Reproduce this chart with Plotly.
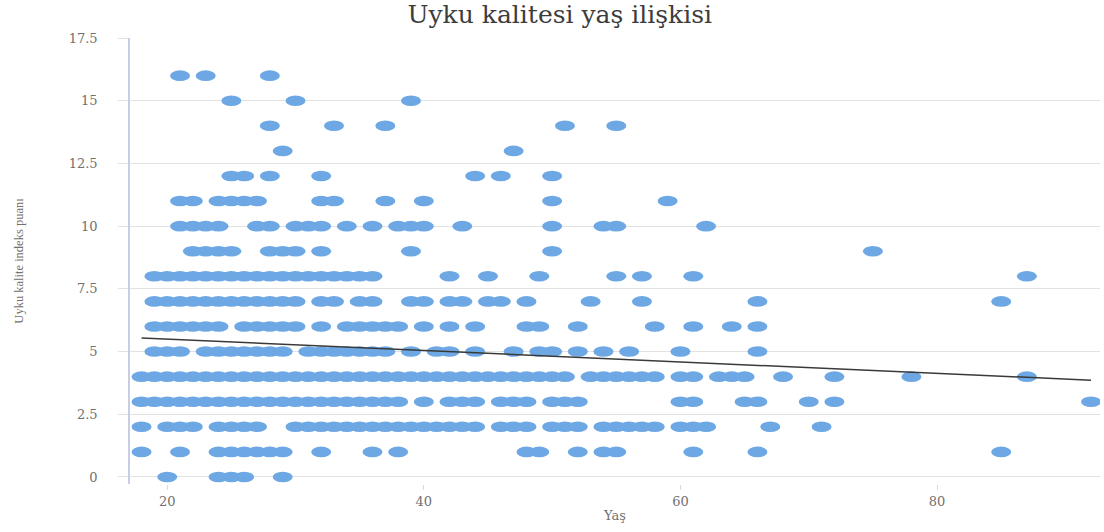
import plotly.graph_objects as go

# Ages of participants for each sleep quality index score (0-16)
yas_0 = [20, 24, 25, 26, 29]
yas_1 = [18, 21, 24, 25, 26, 27, 28, 29, 32, 36, 38, 48, 49, 52, 54, 55, 61, 66, 85]
yas_2 = [18, 20, 21, 22, 24, 25, 26, 27, 30, 31, 32, 33, 34, 35, 36, 37, 38, 39, 40,
         41, 42, 43, 44, 46, 47, 48, 50, 51, 52, 54, 55, 56, 57, 58, 60, 61, 62, 67, 71]
yas_3 = [18, 19, 20, 21, 22, 23, 24, 25, 26, 27, 28, 29, 30, 31, 32, 33, 34, 35, 36,
         37, 38, 40, 42, 43, 44, 46, 47, 48, 50, 51, 52, 60, 61, 65, 66, 70, 72, 92]
yas_4 = [18, 19, 20, 21, 22, 23, 24, 25, 26, 27, 28, 29, 30, 31, 32, 33, 34, 35, 36,
         37, 38, 39, 40, 41, 42, 43, 44, 45, 46, 47, 48, 49, 50, 51, 53, 54, 55, 56,
         57, 58, 60, 61, 63, 64, 65, 68, 72, 78, 87]
yas_5 = [19, 20, 21, 23, 24, 25, 26, 27, 28, 29, 31, 32, 33, 34, 35, 36, 37, 39, 41,
         42, 44, 47, 49, 50, 52, 54, 56, 60, 66]
yas_6 = [19, 20, 21, 22, 23, 24, 26, 27, 28, 29, 30, 32, 34, 35, 36, 37, 38, 40, 42,
         44, 48, 49, 52, 58, 61, 64, 66]
yas_7 = [19, 20, 21, 22, 23, 24, 25, 26, 27, 28, 29, 30, 32, 33, 35, 36, 39, 40, 42,
         43, 45, 46, 48, 53, 57, 66, 85]
yas_8 = [19, 20, 21, 22, 23, 24, 25, 26, 27, 28, 29, 30, 31, 32, 33, 34, 35, 36, 42,
         45, 49, 55, 57, 61, 87]
yas_9 = [22, 23, 24, 25, 28, 29, 30, 32, 39, 50, 75]
yas_10 = [21, 22, 23, 24, 27, 28, 30, 31, 32, 34, 36, 38, 39, 40, 43, 50, 54, 55, 62]
yas_11 = [21, 22, 24, 25, 26, 27, 32, 33, 37, 40, 50, 59]
yas_12 = [25, 26, 28, 32, 44, 46, 50]
yas_13 = [29, 47]
yas_14 = [28, 33, 37, 51, 55]
yas_15 = [25, 30, 39]
yas_16 = [21, 23, 28]

puan_gruplari = [yas_0, yas_1, yas_2, yas_3, yas_4, yas_5, yas_6, yas_7, yas_8,
                 yas_9, yas_10, yas_11, yas_12, yas_13, yas_14, yas_15, yas_16]

# Linear trend line end points
trend_x = [18, 92]
trend_y = [5.54, 3.86]

y_ticks = [0, 2.5, 5, 7.5, 10, 12.5, 15, 17.5]
y_tick_text = ["0", "2.5", "5", "7.5", "10", "12.5", "15", "17.5"]
x_ticks = [20, 40, 60, 80]

# Flatten to (age, score) pairs
yas = []
puan = []
for skor, grup in enumerate(puan_gruplari):
    for a in grup:
        yas.append(a)
        puan.append(skor)

nokta_renk = "#6EA8E4"
serif_wide = "DejaVu Serif, serif"
serif_narrow = "Liberation Serif, Times New Roman, serif"

fig = go.Figure()

# Hover layer for the points (the visible marks are elliptical shapes below)
fig.add_trace(go.Scatter(
    x=yas, y=puan, mode="markers",
    marker=dict(size=12, color=nokta_renk, opacity=0),
    hovertemplate="Yaş: %{x}<br>Puan: %{y}<extra></extra>",
    showlegend=False,
))

fig.add_trace(go.Scatter(
    x=trend_x, y=trend_y, mode="lines",
    line=dict(color="#3a3a3a", width=1.5),
    hoverinfo="skip", showlegend=False,
))

# Elliptical markers anchored at each data point
shapes = []
for a, p in zip(yas, puan):
    shapes.append(dict(
        type="circle", layer="between",
        xref="x", yref="y",
        xsizemode="pixel", ysizemode="pixel",
        xanchor=a, yanchor=p,
        x0=-10, x1=10, y0=-5.3, y1=5.3,
        fillcolor=nokta_renk, line=dict(width=0),
    ))

fig.update_layout(
    width=1104, height=532,
    margin=dict(l=130, r=4, t=38, b=48),
    paper_bgcolor="white", plot_bgcolor="white",
    shapes=shapes,
    title=dict(
        text="Uyku kalitesi yaş ilişkisi",
        x=0.507, xanchor="center",
        y=1 - 14 / 532, yref="container", yanchor="middle",
        font=dict(family=serif_wide, size=25, color="#3c3c3c"),
    ),
    xaxis=dict(
        range=[17.1, 92.7],
        tickvals=x_ticks,
        showgrid=False, zeroline=False, showline=False,
        ticks="outside", ticklen=5, tickcolor="#d9d9d9",
        tickfont=dict(family=serif_wide, size=13, color="#707070"),
        title=dict(text="Yaş", standoff=3,
                   font=dict(family=serif_wide, size=13, color="#707070")),
    ),
    yaxis=dict(
        range=[-0.28, 17.5],
        tickvals=y_ticks, ticktext=y_tick_text,
        showgrid=True, gridcolor="#e2e2e2", gridwidth=1,
        zeroline=False,
        showline=True, linecolor="#c8cde6", linewidth=1.5,
        ticks="outside", ticklen=10, tickcolor="#e2e2e2",
        ticklabelstandoff=18,
        tickfont=dict(family=serif_wide, size=13, color="#707070"),
        title=dict(text="Uyku kalite indeks puanı", standoff=42,
                   font=dict(family=serif_narrow, size=12.5, color="#707070")),
    ),
)

fig.write_html("out.html")
